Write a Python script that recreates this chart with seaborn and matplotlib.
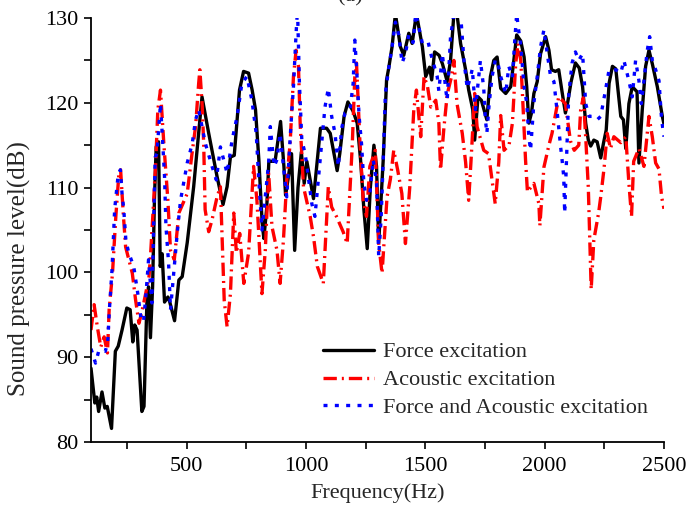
import numpy as np
import pandas as pd
import matplotlib
matplotlib.use("Agg")
import matplotlib.pyplot as plt
from matplotlib.ticker import MultipleLocator
import seaborn as sns

# Force excitation
force_hz = [100, 116, 124, 132, 146, 158, 168, 186, 202, 214, 230, 250, 264, 275, 283, 293,
            313, 322, 334, 341, 349, 358, 366, 373, 383, 390, 398, 408, 422, 430, 450, 468,
            482, 503, 530, 565, 593, 628, 653, 670, 684, 700, 722, 739, 760, 775, 789, 803,
            817, 824, 836, 845, 871, 894, 908, 915, 928, 940, 953, 967, 981, 993, 1004, 1032,
            1061, 1087, 1102, 1118, 1131, 1142, 1160, 1176, 1198, 1215, 1229, 1243, 1257, 1270,
            1285, 1296, 1305, 1324, 1338, 1347, 1361, 1375, 1396, 1410, 1431, 1445, 1463, 1488,
            1502, 1518, 1527, 1539, 1558, 1572, 1592, 1606, 1620, 1634, 1648, 1669, 1682, 1699,
            1707, 1721, 1735, 1758, 1773, 1787, 1801, 1816, 1837, 1858, 1871, 1883, 1900, 1914,
            1925, 1934, 1945, 1955, 1969, 1983, 2004, 2018, 2029, 2045, 2059, 2073, 2087, 2097,
            2111, 2129, 2145, 2159, 2172, 2183, 2193, 2206, 2220, 2235, 2247, 2258, 2270, 2284,
            2298, 2309, 2319, 2330, 2340, 2353, 2367, 2387, 2395, 2409, 2423, 2437, 2451, 2472,
            2493, 2500]
force_db = [88.7, 84.6, 85.3, 83.6, 85.9, 84.0, 84.2, 81.6, 90.7, 91.3, 93.2, 95.8, 95.6, 91.8,
            93.8, 93.2, 83.6, 84.2, 96.4, 98.3, 92.3, 98.3, 108.9, 114.8, 115.4, 100.7, 102.2,
            96.5, 97.1, 96.5, 94.3, 99.1, 99.5, 103.5, 110.1, 120.7, 116.4, 111.3, 108.0, 110.1,
            113.6, 113.8, 121.5, 123.7, 123.5, 121.5, 119.2, 113.3, 105.8, 104.0, 107.6, 113.1,
            113.1, 117.8, 112.5, 109.1, 111.5, 114.0, 102.6, 110.0, 114.2, 110.5, 113.1, 108.7,
            117.0, 117.0, 116.4, 114.0, 112.0, 114.0, 118.4, 120.1, 119.0, 117.6, 113.3, 107.4,
            102.8, 110.0, 115.0, 112.5, 103.5, 113.3, 122.7, 124.1, 126.6, 130.5, 126.6, 125.6,
            128.2, 127.0, 130.5, 126.6, 123.1, 124.2, 122.7, 126.0, 125.6, 124.6, 122.5, 125.0,
            130.5, 130.2, 127.0, 123.9, 121.5, 119.2, 115.6, 120.7, 120.3, 118.0, 123.1, 125.0,
            125.4, 121.7, 121.1, 121.9, 125.0, 128.0, 127.3, 125.4, 121.9, 117.6, 118.8, 121.1,
            122.5, 125.8, 127.8, 126.2, 123.9, 123.7, 123.9, 121.3, 118.8, 120.1, 122.5, 124.7,
            124.1, 121.9, 117.6, 115.6, 114.9, 115.6, 115.4, 113.5, 115.3, 116.8, 122.3, 124.3,
            124.0, 121.1, 118.4, 118.0, 114.6, 119.9, 121.9, 121.3, 112.9, 119.2, 124.3, 126.2,
            124.6, 121.9, 118.4, 117.5]

# Acoustic excitation
acoustic_hz = [100, 113, 127, 141, 155, 169, 176, 190, 204, 217, 224, 235, 245, 273, 287, 301,
               315, 329, 343, 350, 361, 371, 380, 391, 405, 422, 433, 449, 468, 503, 523, 538,
               551, 556, 566, 572, 578, 593, 607, 628, 642, 658, 670, 684, 698, 709, 723, 740,
               760, 781, 795, 816, 830, 844, 858, 879, 892, 906, 920, 934, 948, 959, 969, 976,
               990, 1018, 1032, 1048, 1073, 1094, 1108, 1128, 1156, 1173, 1194, 1205, 1212, 1226,
               1240, 1254, 1268, 1291, 1305, 1319, 1340, 1354, 1368, 1385, 1402, 1417, 1435, 1452,
               1463, 1481, 1495, 1509, 1523, 1544, 1557, 1564, 1578, 1592, 1610, 1620, 1633, 1655,
               1669, 1682, 1693, 1707, 1717, 1745, 1765, 1793, 1808, 1816, 1830, 1851, 1865, 1879,
               1889, 1900, 1907, 1920, 1928, 1955, 1976, 1980, 1997, 2018, 2031, 2059, 2087, 2108,
               2124, 2143, 2151, 2162, 2172, 2183, 2190, 2195, 2206, 2226, 2235, 2249, 2262, 2276,
               2290, 2319, 2340, 2353, 2364, 2373, 2395, 2416, 2437, 2451, 2465, 2479, 2490, 2500]
acoustic_db = [93.2, 96.2, 93.5, 91.2, 92.4, 90.5, 95.6, 99.9, 106.6, 111.7, 112.1, 107.0, 103.0,
               99.9, 96.7, 94.0, 95.6, 97.5, 99.5, 102.3, 107.7, 112.9, 119.2, 121.5, 115.2, 108.5,
               102.6, 101.5, 107.0, 109.3, 114.0, 117.2, 122.3, 123.9, 119.5, 115.2, 107.4, 104.8,
               106.2, 108.9, 110.1, 96.7, 93.6, 97.5, 107.0, 102.3, 104.6, 98.7, 102.3, 112.5,
               108.5, 97.5, 102.6, 111.7, 105.4, 102.6, 98.7, 103.8, 110.9, 115.2, 123.1, 126.2,
               124.3, 117.6, 110.1, 106.6, 104.2, 100.7, 98.7, 110.1, 107.7, 106.6, 104.8, 103.4,
               114.8, 123.1, 124.7, 115.6, 108.5, 106.6, 112.5, 114.4, 103.4, 99.9, 108.9, 111.0,
               114.4, 112.0, 109.3, 103.4, 110.0, 119.2, 121.5, 116.0, 123.1, 122.0, 119.5, 120.3,
               117.6, 112.1, 117.0, 121.0, 123.1, 125.0, 119.9, 116.4, 113.0, 108.5, 113.8, 121.1,
               117.2, 114.4, 114.0, 108.1, 113.0, 118.5, 114.4, 115.0, 117.6, 124.7, 127.0, 125.0,
               121.1, 113.3, 109.5, 110.5, 108.1, 105.5, 112.4, 115.0, 116.4, 120.7, 119.9, 115.5,
               114.4, 115.0, 119.2, 120.6, 116.0, 110.0, 103.0, 98.0, 103.8, 107.0, 108.9, 112.3,
               116.4, 114.6, 116.0, 115.3, 116.0, 110.5, 106.6, 113.1, 114.6, 112.5, 118.4, 116.0,
               112.9, 112.2, 108.9, 107.5]

# Force and acoustic excitation
combined_hz = [100, 119, 133, 160, 170, 177, 188, 199, 213, 223, 230, 237, 246, 258, 279, 296,
               310, 320, 330, 341, 355, 369, 376, 386, 391, 400, 408, 414, 425, 433, 461, 475,
               503, 524, 538, 551, 579, 607, 625, 642, 670, 691, 712, 732, 753, 774, 792, 802,
               816, 844, 851, 867, 879, 892, 906, 920, 937, 948, 959, 965, 973, 983, 997, 1025,
               1038, 1066, 1080, 1094, 1108, 1122, 1136, 1150, 1164, 1185, 1198, 1205, 1212, 1223,
               1233, 1243, 1254, 1268, 1282, 1296, 1305, 1315, 1324, 1333, 1347, 1361, 1375, 1389,
               1403, 1417, 1431, 1449, 1460, 1467, 1488, 1512, 1523, 1537, 1550, 1557, 1572, 1585,
               1592, 1606, 1620, 1648, 1662, 1676, 1690, 1697, 1710, 1731, 1745, 1752, 1758, 1768,
               1780, 1793, 1802, 1816, 1837, 1850, 1865, 1874, 1883, 1889, 1900, 1914, 1925, 1934,
               1941, 1955, 1969, 1983, 1997, 2011, 2025, 2039, 2053, 2067, 2073, 2080, 2084, 2094,
               2101, 2115, 2129, 2143, 2159, 2165, 2172, 2186, 2200, 2220, 2235, 2255, 2270, 2284,
               2298, 2319, 2332, 2353, 2367, 2381, 2395, 2405, 2416, 2430, 2440, 2451, 2465, 2479,
               2490, 2500]
combined_db = [91.0, 89.3, 90.8, 90.7, 91.8, 95.6, 100.3, 107.4, 111.3, 112.1, 109.3, 107.5, 103.8,
               102.3, 100.7, 97.5, 94.4, 94.2, 97.3, 101.5, 96.4, 113.6, 114.0, 118.0, 119.9, 115.5,
               111.3, 105.4, 101.1, 95.6, 104.6, 108.5, 112.9, 115.2, 118.0, 119.2, 115.2, 112.5,
               110.9, 114.8, 111.7, 115.6, 118.4, 122.3, 123.1, 120.3, 116.4, 111.3, 105.0, 112.9,
               117.2, 112.5, 113.3, 116.4, 112.5, 108.9, 117.2, 121.9, 128.2, 131.0, 122.3, 115.6,
               114.0, 108.1, 106.6, 115.2, 119.5, 121.7, 118.4, 116.4, 112.5, 117.0, 118.8, 119.2,
               122.3, 127.4, 124.3, 118.4, 115.2, 110.5, 108.5, 109.3, 113.3, 110.5, 101.9, 106.3,
               113.3, 121.1, 124.1, 126.6, 129.5, 128.0, 124.7, 125.8, 128.0, 127.1, 130.5, 129.7,
               127.0, 127.2, 125.8, 124.4, 123.1, 121.4, 125.8, 121.7, 120.3, 127.8, 130.5, 130.5,
               125.0, 121.7, 123.1, 124.0, 119.2, 125.0, 121.7, 118.0, 116.4, 120.0, 123.1, 125.0,
               125.0, 123.1, 121.1, 124.3, 123.0, 127.0, 130.5, 129.0, 126.8, 121.9, 120.0, 116.0,
               114.4, 120.0, 123.1, 126.6, 128.6, 125.8, 123.1, 122.5, 118.8, 114.8, 113.3, 111.3,
               107.0, 115.2, 121.0, 124.7, 126.0, 125.0, 125.8, 123.1, 119.9, 118.4, 118.4, 118.0,
               118.4, 121.5, 123.9, 123.9, 123.9, 123.5, 125.0, 122.6, 120.7, 125.0, 122.6, 119.9,
               122.6, 126.2, 127.8, 125.0, 123.9, 122.6, 118.0, 116.0]

series_names = ["Force excitation", "Acoustic excitation", "Force and Acoustic excitation"]

df = pd.concat([
    pd.DataFrame({"Frequency": force_hz, "SPL": force_db, "Case": series_names[0]}),
    pd.DataFrame({"Frequency": acoustic_hz, "SPL": acoustic_db, "Case": series_names[1]}),
    pd.DataFrame({"Frequency": combined_hz, "SPL": combined_db, "Case": series_names[2]}),
], ignore_index=True)

sns.set_theme(style="ticks")
plt.rcParams["font.family"] = ["Liberation Serif", "DejaVu Serif"]

FS = 16

fig = plt.figure(figsize=(6.91, 5.12), dpi=100)
ax = fig.add_axes([91 / 691, 1 - 442 / 512, (664 - 91) / 691, (442 - 18) / 512])

palette = {series_names[0]: "#000000", series_names[1]: "#ff0000", series_names[2]: "#0000ff"}
dashes = {series_names[0]: "", series_names[1]: (4, 1.5, 0.6, 1.5), series_names[2]: (1.2, 2.2)}

sns.lineplot(data=df, x="Frequency", y="SPL", hue="Case", style="Case",
             palette=palette, dashes=dashes, hue_order=series_names, style_order=series_names,
             estimator=None, sort=True, linewidth=2.4, ax=ax)

ax.set_xlim(100, 2500)
ax.set_ylim(80, 130)
ax.xaxis.set_major_locator(MultipleLocator(500))
ax.xaxis.set_minor_locator(MultipleLocator(250))
ax.yaxis.set_major_locator(MultipleLocator(10))
ax.yaxis.set_minor_locator(MultipleLocator(5))

for side in ("top", "right"):
    ax.spines[side].set_visible(False)
for side in ("left", "bottom"):
    ax.spines[side].set_linewidth(1.3)
    ax.spines[side].set_color("black")

ax.tick_params(which="both", direction="out", length=5, width=1.2, colors="black",
               labelsize=FS)
ax.tick_params(axis="x", pad=6)
ax.tick_params(axis="y", pad=4)
ax.set_xlabel("Frequency(Hz)", fontsize=FS, labelpad=5)
ax.set_ylabel("Sound pressure level(dB)", fontsize=18)
ax.yaxis.set_label_coords(-0.104, 0.41)

handles, labels = ax.get_legend_handles_labels()
ax.legend(handles, labels, loc="upper left", bbox_to_anchor=(0.405, 0.236),
          frameon=False, fontsize=FS, handlelength=2.3, handletextpad=0.4,
          labelspacing=0.33, borderpad=0, borderaxespad=0)

fig.text(350 / 691, 1 - 1 / 512, "(a)", ha="center", va="baseline", fontsize=FS)

fig.savefig("out.png", dpi=100)
